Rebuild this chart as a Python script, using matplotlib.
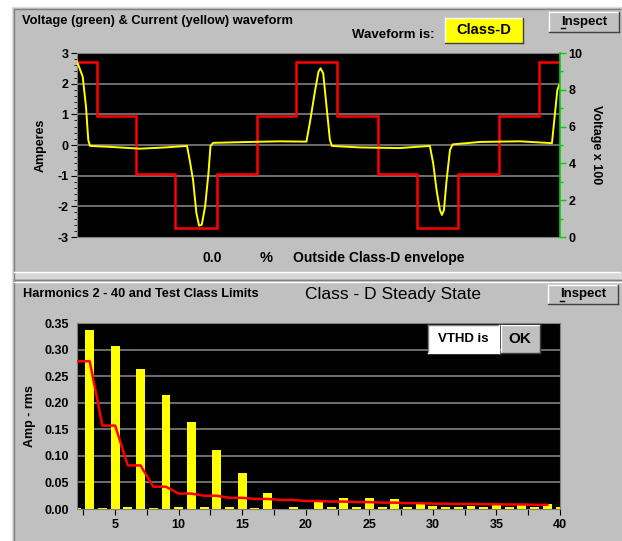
import matplotlib
matplotlib.use("Agg")
import matplotlib.pyplot as plt
from matplotlib.patches import Rectangle
from matplotlib.lines import Line2D
from matplotlib.ticker import MultipleLocator, FuncFormatter

plt.rcParams['font.family'] = ['Liberation Sans', 'DejaVu Sans']
plt.rcParams['font.weight'] = 'bold'
plt.rcParams['axes.unicode_minus'] = False

# top chart: current waveform (degrees, amperes)
cur_deg = [0, 8.5, 13.4, 16.8, 19.4, 49, 94, 131, 164, 168, 173, 178, 182, 186, 191, 196,
           199, 203, 258, 303, 342, 347, 355, 360, 363, 367, 372, 377, 380, 422, 481, 526,
           531, 536, 541, 544, 547, 551, 556, 560, 601, 660, 708, 712, 716, 719]
cur_amp = [2.72, 2.23, 1.25, 0.16, -0.03, -0.06, -0.12, -0.08, -0.03, -0.49, -1.14, -2.22,
           -2.63, -2.6, -2.0, -0.91, -0.03, 0.07, 0.1, 0.12, 0.11, 0.71, 1.79, 2.39, 2.5,
           2.34, 1.25, 0.16, -0.03, -0.08, -0.1, -0.03, -0.6, -1.47, -2.12, -2.28, -2.12,
           -1.14, -0.16, 0.02, 0.1, 0.12, 0.06, 0.92, 1.79, 1.96]

# Class-D envelope (step edges in degrees, levels in amperes)
env_edges = [0, 29.8, 87.5, 146, 208.7, 268, 326, 387.6, 448.7, 506.8, 568, 629, 688.7, 720]
env_levels = [2.72, 0.96, -0.95, -2.7, -0.95, 0.96, 2.72, 0.96, -0.95, -2.7, -0.95, 0.96, 2.72]

# bottom chart: harmonics 2..40
harmonics = list(range(2, 41))
amp_rms = [0.002, 0.337, 0.002, 0.307, 0.004, 0.264, 0.002, 0.215, 0.004, 0.163,
           0.004, 0.111, 0.004, 0.067, 0.002, 0.031, 0.0, 0.004, 0.0, 0.014,
           0.003, 0.021, 0.003, 0.021, 0.003, 0.018, 0.003, 0.011, 0.005, 0.003,
           0.003, 0.005, 0.003, 0.008, 0.003, 0.008, 0.003, 0.009, 0.003]
limit_n = list(range(2, 40))
limit_amp = [0.278, 0.278, 0.157, 0.157, 0.082, 0.082, 0.042, 0.042, 0.029, 0.029,
             0.025, 0.025, 0.021, 0.021, 0.019, 0.019, 0.017, 0.017, 0.015, 0.015,
             0.014, 0.014, 0.013, 0.013, 0.012, 0.012, 0.011, 0.011, 0.010, 0.010,
             0.0095, 0.0095, 0.009, 0.009, 0.0085, 0.0085, 0.008, 0.008]

W, H = 622, 541
GRAY = '#c0c0c0'
DARK = '#808080'


def fx(x):
    return x / W


def fy(y):
    return 1 - y / H


fig = plt.figure(figsize=(W / 100, H / 100), dpi=100)
fig.patch.set_facecolor('white')


def hline(x0, x1, y, c, z=2, lw=1.0):
    fig.add_artist(Line2D([fx(x0), fx(x1)], [fy(y), fy(y)], color=c, lw=lw, zorder=z))


def vline(x, y0, y1, c, z=2, lw=1.0):
    fig.add_artist(Line2D([fx(x), fx(x)], [fy(y0), fy(y1)], color=c, lw=lw, zorder=z))


def box(x0, y0, x1, y1, face, raised=True, z=3):
    fig.add_artist(Rectangle((fx(x0), fy(y1)), fx(x1) - fx(x0), fy(y0) - fy(y1),
                             facecolor=face, edgecolor='none', zorder=z))
    lt, rb = ('white', '#404040') if raised else ('#808080', 'white')
    hline(x0, x1, y0, lt, z + 0.1)
    vline(x0, y0, y1, lt, z + 0.1)
    hline(x0, x1, y1, rb, z + 0.1)
    vline(x1, y0, y1, rb, z + 0.1)


# panels
fig.add_artist(Rectangle((fx(12), fy(273)), fx(622) - fx(12), fy(7) - fy(273),
                         facecolor=GRAY, edgecolor='none', zorder=-2))
fig.add_artist(Rectangle((fx(12), fy(541)), fx(622) - fx(12), fy(279) - fy(541),
                         facecolor=GRAY, edgecolor='none', zorder=-2))
fig.add_artist(Rectangle((fx(12), fy(279)), fx(622) - fx(12), fy(273) - fy(279),
                         facecolor='#d8d8d8', edgecolor='none', zorder=-2))
hline(12, 620, 7, '#e0e0e0', -1)
vline(12, 7, 541, '#e0e0e0', -1)
vline(14, 9, 541, DARK, -1)
hline(14, 620, 9, DARK, -1)
hline(14, 620, 272, 'white', -1)
hline(14, 622, 280, DARK, -1)
hline(14, 622, 282, 'white', -1)

# top chart
ax1 = fig.add_axes([fx(77), fy(237), fx(560) - fx(77), fy(53) - fy(237)])
ax1.set_facecolor('black')
ax1.set_xlim(0, 720)
ax1.set_ylim(-3, 3)
for v in [-2, -1, 0, 1, 2]:
    ax1.axhline(v, color=DARK, lw=1.2, zorder=1)
ax1.stairs(env_levels, env_edges, baseline=None, color='red', lw=1.8, zorder=3)
ax1.plot(cur_deg, cur_amp, color='yellow', lw=1.4, zorder=4)
ax1.set_xticks([])
ax1.yaxis.set_major_locator(MultipleLocator(1))
ax1.yaxis.set_minor_locator(MultipleLocator(0.2))
ax1.tick_params(axis='y', labelsize=9, length=4, width=0.8, color='black', pad=2)
ax1.tick_params(axis='y', which='minor', length=2, width=0.6)
ax1.set_ylabel('Amperes', fontsize=9, fontweight='bold', labelpad=8)
for s in ['left', 'bottom', 'top']:
    ax1.spines[s].set_color(DARK)
ax1.spines['right'].set_visible(False)

ax1r = ax1.twinx()
ax1r.set_ylim(0, 10)
ax1r.yaxis.set_major_locator(MultipleLocator(2))
ax1r.yaxis.set_minor_locator(MultipleLocator(1))
ax1r.tick_params(axis='y', labelsize=9, length=4, width=1, color='#00d000', pad=2)
ax1r.tick_params(axis='y', which='minor', length=2.5, width=1, color='#00d000')
ax1r.spines['right'].set_color('#00d000')
ax1r.spines['right'].set_linewidth(1.2)
for s in ['left', 'bottom', 'top']:
    ax1r.spines[s].set_visible(False)
ax1r.set_ylabel('Voltage x 100', fontsize=9, fontweight='bold', rotation=270, labelpad=14)

fig.text(fx(22), fy(21), 'Voltage (green) & Current (yellow) waveform', fontsize=9.3,
         va='center', ha='left')
fig.text(fx(352), fy(35), 'Waveform is:', fontsize=9.5, va='center', ha='left')
box(445, 18, 523, 43, 'yellow', raised=True)
fig.text(fx(484), fy(30), 'Class-D', fontsize=10.5, va='center', ha='center', zorder=5)
fig.text(fx(212), fy(258), '0.0', fontsize=10, va='center', ha='center')
fig.text(fx(266), fy(258), '%', fontsize=10.5, va='center', ha='center')
fig.text(fx(293), fy(258), 'Outside Class-D envelope', fontsize=10, va='center', ha='left')

# bottom chart
ax2 = fig.add_axes([fx(77), fy(509), fx(560) - fx(77), fy(323) - fy(509)])
ax2.set_facecolor('black')
ax2.set_xlim(2, 40)
ax2.set_ylim(0, 0.35)
for v in [0.05, 0.10, 0.15, 0.20, 0.25, 0.30]:
    ax2.axhline(v, color=DARK, lw=1.2, zorder=1)
ax2.bar(harmonics, amp_rms, width=0.7, color='yellow', zorder=2)
ax2.plot(limit_n, limit_amp, color='red', lw=1.8, zorder=3)
ax2.xaxis.set_major_locator(MultipleLocator(2.5))
ax2.xaxis.set_major_formatter(FuncFormatter(lambda v, p: '%d' % v if v % 5 == 0 else ''))
ax2.yaxis.set_major_locator(MultipleLocator(0.05))
ax2.yaxis.set_major_formatter(FuncFormatter(lambda v, p: '%.2f' % v))
ax2.tick_params(axis='x', labelsize=9, length=4, width=0.8, pad=3)
ax2.tick_params(axis='y', labelsize=9, length=0, pad=6)
ax2.set_ylabel('Amp - rms', fontsize=9, fontweight='bold', labelpad=6)
for s in ['left', 'bottom', 'top', 'right']:
    ax2.spines[s].set_color(DARK)

fig.text(fx(23), fy(294), 'Harmonics 2 - 40 and Test Class Limits', fontsize=9.2,
         va='center', ha='left')
fig.text(fx(305), fy(294), 'Class - D Steady State', fontsize=12.5, fontweight='normal',
         va='center', ha='left')

# VTHD indicator
box(428, 325, 499, 353, 'white', raised=False, z=5)
fig.text(fx(463), fy(339), 'VTHD is', fontsize=9.5, va='center', ha='center', zorder=6)
box(501, 325, 540, 353, GRAY, raised=True, z=5)
fig.text(fx(520), fy(339), 'OK', fontsize=11, va='center', ha='center', zorder=6)

# Inspect buttons
for (bx0, by0, bx1, by1) in [(549, 12, 619, 32), (548, 285, 618, 304)]:
    box(bx0, by0, bx1, by1, GRAY, raised=True, z=3)
    cx, cy = (bx0 + bx1) / 2, (by0 + by1) / 2
    fig.text(fx(cx), fy(cy), 'Inspect', fontsize=9.5, va='center', ha='center', zorder=4)
    hline(cx - 23, cx - 19, cy + 6, 'black', 4)

fig.savefig('out.png', dpi=100, facecolor=fig.get_facecolor())
